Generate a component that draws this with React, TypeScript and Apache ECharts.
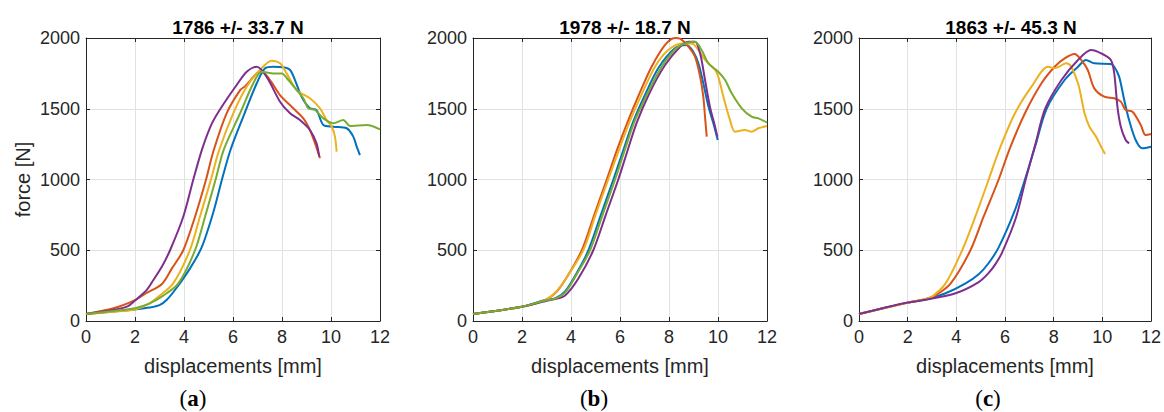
import React, { useEffect, useRef } from "react";
import * as echarts from "echarts";

type Pt = [number, number];

// Tick labels / axis ranges
const xTicks = { min: 0, max: 12, interval: 2 };
const yTicks = { min: 0, max: 2000, interval: 500 };

const titles = ["1786 +/- 33.7 N", "1978 +/- 18.7 N", "1863 +/- 45.3 N"];
const panelLabels = ["a", "b", "c"];
const xName = "displacements [mm]";
const yName = "force [N]";

// MATLAB default colours
const C_BLUE = "#0072BD";
const C_ORANGE = "#D95319";
const C_YELLOW = "#EDB120";
const C_PURPLE = "#7E2F8E";
const C_GREEN = "#77AC30";

// ---- Panel (a)
const aBlue: Pt[] = [[0,50],[1,65],[2,82],[2.6,95],[3.0,112],[3.3,150],[3.7,235],[4.24,370],[4.72,520],[5.2,770],[5.55,1000],[5.9,1210],[6.42,1444],[6.97,1680],[7.31,1786],[7.65,1797],[8.05,1793],[8.33,1774],[8.53,1703],[8.8,1585],[9.14,1503],[9.41,1491],[9.69,1385],[10.1,1373],[10.64,1362],[10.91,1303],[11.05,1232],[11.18,1173]];
const aOrange: Pt[] = [[0,50],[1.12,90],[2.0,148],[2.45,196],[3.1,262],[3.5,370],[3.97,500],[4.45,737],[4.9,1000],[5.2,1200],[5.74,1468],[6.29,1632],[6.5,1660],[6.97,1750],[7.17,1762],[7.51,1703],[7.92,1597],[8.46,1503],[8.87,1432],[9.14,1350],[9.35,1255],[9.55,1150]];
const aYellow: Pt[] = [[0,50],[1.12,66],[2.0,82],[2.5,115],[2.95,172],[3.56,266],[4.24,500],[4.65,737],[5.1,1000],[5.42,1200],[6.01,1468],[6.56,1656],[7.1,1774],[7.58,1840],[7.92,1821],[8.19,1750],[8.6,1632],[9.14,1574],[9.55,1503],[9.82,1420],[10.03,1373],[10.16,1303],[10.23,1197]];
const aPurple: Pt[] = [[0,50],[1.12,78],[1.67,101],[2.0,145],[2.48,220],[2.75,290],[3.1,385],[3.43,500],[3.97,737],[4.38,1000],[4.75,1220],[5.15,1400],[5.6,1530],[6.15,1668],[6.56,1762],[6.97,1797],[7.37,1727],[7.92,1550],[8.33,1468],[8.73,1420],[9.14,1350],[9.41,1255],[9.52,1161]];
const aGreen: Pt[] = [[0,50],[1.12,70],[2.0,90],[2.6,125],[3.09,172],[3.77,266],[4.45,500],[4.86,737],[5.29,1000],[5.62,1210],[6.29,1468],[6.83,1680],[7.17,1762],[7.65,1750],[7.99,1750],[8.26,1703],[8.6,1632],[8.87,1574],[9.07,1503],[9.35,1491],[9.69,1432],[10.1,1397],[10.5,1420],[10.78,1378],[11.46,1385],[12.0,1354]];

// ---- Panel (b)
const bBlue: Pt[] = [[0,50],[2,101],[2.94,148],[3.35,160],[3.76,210],[4.3,360],[4.71,500],[5.22,750],[5.73,1000],[6.12,1200],[6.52,1400],[7.0,1590],[7.56,1786],[8.24,1927],[8.72,1951],[8.99,1903],[9.2,1821],[9.4,1680],[9.61,1515],[9.81,1397],[9.99,1279]];
const bOrange: Pt[] = [[0,50],[2,101],[2.94,148],[3.35,196],[3.76,290],[4.44,500],[4.95,750],[5.46,1000],[5.9,1220],[6.34,1420],[6.8,1610],[7.29,1797],[7.84,1951],[8.24,2000],[8.45,1995],[8.79,1939],[9.06,1868],[9.27,1727],[9.4,1585],[9.47,1444],[9.54,1303]];
const bYellow: Pt[] = [[0,50],[2,101],[2.94,148],[3.35,200],[3.76,292],[4.5,500],[5.0,750],[5.52,1000],[5.96,1210],[6.4,1410],[6.88,1600],[7.43,1797],[7.97,1915],[8.52,1962],[8.93,1962],[9.2,1915],[9.47,1845],[9.88,1774],[10.01,1727],[10.22,1585],[10.49,1420],[10.69,1338],[11.1,1350],[11.37,1338],[11.65,1362],[12,1378]];
const bPurple: Pt[] = [[0,50],[2,101],[2.94,140],[3.35,155],[3.76,180],[4.3,300],[4.91,500],[5.42,750],[5.93,1000],[6.3,1200],[6.68,1400],[7.2,1610],[7.84,1809],[8.52,1951],[8.79,1974],[9.06,1974],[9.27,1892],[9.47,1703],[9.67,1515],[9.88,1373],[9.97,1303]];
const bGreen: Pt[] = [[0,50],[2,101],[2.94,145],[3.35,158],[3.76,200],[4.3,350],[4.78,500],[5.29,750],[5.8,1000],[6.18,1200],[6.57,1400],[7.1,1600],[7.7,1797],[8.38,1939],[9.06,1974],[9.33,1915],[9.61,1821],[10.01,1762],[10.29,1703],[10.56,1609],[10.97,1503],[11.37,1444],[11.65,1432],[12,1402]];

// ---- Panel (c)
const cBlue: Pt[] = [[0,50],[0.98,90],[2.0,130],[2.74,152],[3.56,196],[4.38,266],[4.92,330],[5.33,410],[5.74,520],[6.4,780],[6.82,1000],[7.25,1240],[7.71,1500],[8.45,1703],[9.0,1797],[9.33,1845],[9.67,1821],[10.35,1816],[10.49,1797],[10.69,1727],[10.9,1562],[11.1,1420],[11.37,1279],[11.64,1220],[12,1232]];
const cOrange: Pt[] = [[0,50],[0.98,90],[2.0,130],[2.74,155],[3.17,184],[3.77,266],[4.58,500],[5.12,737],[5.74,1000],[6.2,1220],[6.82,1468],[7.5,1680],[8.04,1797],[8.45,1856],[8.86,1887],[9.13,1845],[9.4,1774],[9.67,1644],[10.08,1585],[10.49,1574],[10.76,1550],[10.96,1491],[11.24,1479],[11.58,1385],[11.78,1314],[12,1321]];
const cYellow: Pt[] = [[0,50],[0.98,88],[2.0,128],[2.74,155],[3.0,172],[3.56,266],[4.24,500],[4.78,737],[5.33,1000],[5.76,1208],[6.41,1468],[7.09,1656],[7.77,1797],[8.04,1786],[8.52,1821],[8.72,1797],[9.0,1680],[9.13,1585],[9.27,1468],[9.47,1373],[9.74,1303],[9.95,1232],[10.11,1180]];
const cPurple: Pt[] = [[0,50],[0.98,90],[2.0,130],[2.74,150],[3.97,196],[4.92,275],[5.33,340],[5.6,400],[5.87,480],[6.45,730],[6.85,1000],[7.25,1250],[7.65,1500],[8.32,1703],[9.0,1845],[9.54,1915],[9.95,1892],[10.35,1845],[10.49,1750],[10.62,1515],[10.76,1373],[10.96,1279],[11.1,1255]];

const panels: { color: string; data: Pt[] }[][] = [
  [
    { color: C_BLUE, data: aBlue },
    { color: C_ORANGE, data: aOrange },
    { color: C_YELLOW, data: aYellow },
    { color: C_PURPLE, data: aPurple },
    { color: C_GREEN, data: aGreen },
  ],
  [
    { color: C_BLUE, data: bBlue },
    { color: C_ORANGE, data: bOrange },
    { color: C_YELLOW, data: bYellow },
    { color: C_PURPLE, data: bPurple },
    { color: C_GREEN, data: bGreen },
  ],
  [
    { color: C_BLUE, data: cBlue },
    { color: C_ORANGE, data: cOrange },
    { color: C_YELLOW, data: cYellow },
    { color: C_PURPLE, data: cPurple },
  ],
];

// Layout
const gridLefts = [86, 473, 859];
const gridWidth = 294;
const gridTop = 38;
const gridHeight = 283;
const labelCenters = [193, 594, 988];

const AX = "#262626";
const FONT = "Liberation Sans, Arial, Helvetica, sans-serif";

export default function App() {
  const ref = useRef<HTMLDivElement>(null);
  useEffect(() => {
    if (!ref.current) return;
    const chart = echarts.init(ref.current, undefined, { renderer: "svg" });
    const grid: any[] = [];
    const xAxis: any[] = [];
    const yAxis: any[] = [];
    const series: any[] = [];
    const title: any[] = [];
    const graphic: any[] = [];

    panels.forEach((lines, i) => {
      grid.push({ left: gridLefts[i], top: gridTop, width: gridWidth, height: gridHeight });
      const common = {
        gridIndex: i,
        type: "value",
        axisLine: { show: true, onZero: false, lineStyle: { color: AX, width: 1 } },
        axisTick: { show: true, inside: true, length: 4, lineStyle: { color: AX } },
      };
      xAxis.push({
        ...common,
        position: "bottom",
        ...xTicks,
        axisLabel: { fontSize: 18, color: AX, margin: 7, fontFamily: FONT, formatter: (v: number) => String(v) },
        splitLine: { show: true, lineStyle: { color: "#e2e2e2", width: 1 } },
        name: xName,
        nameLocation: "middle",
        nameGap: 35,
        nameTextStyle: { fontSize: 20, color: AX, fontFamily: FONT },
      });
      xAxis.push({
        ...common,
        position: "top",
        ...xTicks,
        axisLabel: { show: false },
        splitLine: { show: false },
      });
      yAxis.push({
        ...common,
        position: "left",
        ...yTicks,
        axisLabel: { fontSize: 18, color: AX, margin: 6, fontFamily: FONT, formatter: (v: number) => String(v) },
        splitLine: { show: true, lineStyle: { color: "#e2e2e2", width: 1 } },
        ...(i === 0
          ? {
              name: yName,
              nameLocation: "middle",
              nameGap: 53,
              nameTextStyle: { fontSize: 20, color: AX, fontFamily: FONT },
            }
          : {}),
      });
      yAxis.push({
        ...common,
        position: "right",
        ...yTicks,
        axisLabel: { show: false },
        splitLine: { show: false },
      });
      lines.forEach((l) => {
        series.push({
          type: "line",
          xAxisIndex: i * 2,
          yAxisIndex: i * 2,
          data: l.data,
          showSymbol: false,
          smooth: 0.3,
          lineStyle: { color: l.color, width: 2 },
          itemStyle: { color: l.color },
        });
      });
      title.push({
        text: titles[i],
        left: gridLefts[i] + gridWidth / 2,
        top: 13,
        textAlign: "center",
        textStyle: { fontSize: 19, fontWeight: "bold", color: "#000", fontFamily: FONT },
      });
      graphic.push({
        type: "text",
        x: labelCenters[i],
        y: 398,
        style: {
          text: "({b|" + panelLabels[i] + "})",
          fontSize: 23,
          fontFamily: "Liberation Serif, Times New Roman, serif",
          fill: "#000",
          align: "center",
          verticalAlign: "middle",
          rich: {
            b: {
              fontSize: 23,
              fontWeight: "bold",
              fontFamily: "Liberation Serif, Times New Roman, serif",
              fill: "#000",
            },
          },
        },
      });
    });

    chart.setOption({
      animation: false,
      backgroundColor: "#fff",
      title,
      grid,
      xAxis,
      yAxis,
      series,
      graphic,
    });
    return () => chart.dispose();
  }, []);
  return (
    <div
      ref={ref}
      style={{ position: "fixed", left: 0, top: 0, width: 1164, height: 412 }}
    />
  );
}
